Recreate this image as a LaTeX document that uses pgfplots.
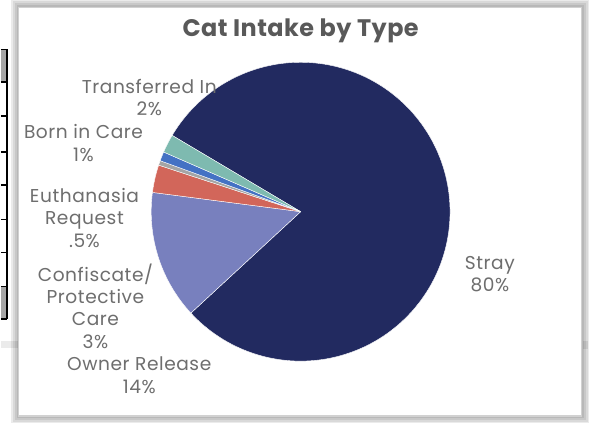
\documentclass[border=0pt]{standalone}
\usepackage{pgfplots}
\pgfplotsset{compat=1.18}
\usepackage{pgfplotstable}
\usepackage{fontspec}
\setmainfont{Poppins}

\definecolor{stray}{HTML}{222A60}
\definecolor{owner}{HTML}{7880BE}
\definecolor{confis}{HTML}{D2665A}
\definecolor{euth}{HTML}{A5A5A5}
\definecolor{born}{HTML}{4472C4}
\definecolor{transf}{HTML}{7EBAB0}
\definecolor{txt}{HTML}{6E6E6E}
\definecolor{ttl}{HTML}{595959}

% cat intake, percent
\pgfplotstableread{
type value
Stray 80
OwnerRelease 14
Confiscate 3
Euthanasia 0.5
BornInCare 1
TransferredIn 2
}\intake

\newcommand{\getval}[2]{\pgfplotstablegetelem{#1}{value}\of\intake\pgfmathsetmacro{#2}{\pgfplotsretval}}
\getval{0}{\vA}\getval{1}{\vB}\getval{2}{\vC}
\getval{3}{\vD}\getval{4}{\vE}\getval{5}{\vF}
\pgfmathsetmacro{\tot}{\vA+\vB+\vC+\vD+\vE+\vF}
% slice edges, clockwise from the top edge of Stray
\pgfmathsetmacro{\aA}{149.3}
\pgfmathsetmacro{\aB}{\aA-\vA/\tot*360}
\pgfmathsetmacro{\aC}{\aB-\vB/\tot*360}
\pgfmathsetmacro{\aD}{\aC-\vC/\tot*360}
\pgfmathsetmacro{\aE}{\aD-\vD/\tot*360}
\pgfmathsetmacro{\aF}{\aE-\vE/\tot*360}
\pgfmathsetmacro{\aG}{\aF-\vF/\tot*360}

\newcommand{\slice}[3]{%
  \addplot[fill=#3, draw=white, line width=0.3pt, domain=#2:#1, samples=160]
    ({cos(x)},{sin(x)}) -- (0,0) -- cycle;}

\begin{document}
\begin{tikzpicture}[lbl/.style={text=txt, align=center,
      font=\fontsize{14}{16.9}\selectfont\addfontfeature{LetterSpace=3}}]
\begin{axis}[
    scale only axis,
    width=441.75pt, height=318pt,
    xmin=-2.0067, xmax=1.92,
    ymin=-1.3933, ymax=1.4333,
    hide axis, clip=false,
  ]
% bits of the sheet behind the chart
\fill[black!8] (-2.0067,-0.8667) rectangle (-1.88,-0.9133);
\fill[black!8] (1.8867,-0.8667) rectangle (1.92,-0.92);
\fill[black!35] (-2.0067,1.0867) rectangle (-1.9667,0.8667);
\fill[black!35] (-2.0067,-0.5) rectangle (-1.9667,-0.72);
\draw[black, line width=1.4pt] (-1.9667,1.0867) -- (-1.9667,-0.72);
\pgfplotsinvokeforeach{1.0867,0.8667,0.64,0.4,0.18,-0.0533,-0.2733,-0.5,-0.72}{
  \draw[black, line width=1.2pt] (-2.0067,#1) -- (-1.9667,#1);}
% chart frame and its shadow
\pgfplotsinvokeforeach{0.05,0.04,0.0267,0.0133}{
  \fill[black, opacity=0.08] (-1.8867-#1,1.3667+#1) rectangle (1.88+#1,-1.3667-#1);}
\filldraw[fill=white, draw=black!18, line width=0.9pt]
  (-1.8867,1.3667) rectangle (1.88,-1.3667);
% pie
\slice{\aA}{\aB}{stray}
\slice{\aB}{\aC}{owner}
\slice{\aC}{\aD}{confis}
\slice{\aD}{\aE}{euth}
\slice{\aE}{\aF}{born}
\slice{\aF}{\aG}{transf}
% title and labels
\node[anchor=base, text=ttl,
  font=\fontsize{18}{22}\selectfont\bfseries\addfontfeature{LetterSpace=2}]
  at (axis cs:0,1.1733) {Cat Intake by Type};
\node[lbl] at (axis cs:1.2667,-0.4183) {Stray\\80\%};
\node[lbl] at (axis cs:-1.0133,0.765) {Transferred In\\2\%};
\node[lbl] at (axis cs:-1.4533,0.4583) {Born in Care\\1\%};
\node[lbl] at (axis cs:-1.4467,-0.0417) {Euthanasia\\Request\\.5\%};
\node[lbl] at (axis cs:-1.3733,-0.6317) {Confiscate/\\Protective\\Care\\3\%};
\node[lbl] at (axis cs:-1.08,-1.095) {Owner Release\\14\%};
\end{axis}
\end{tikzpicture}
\end{document}
